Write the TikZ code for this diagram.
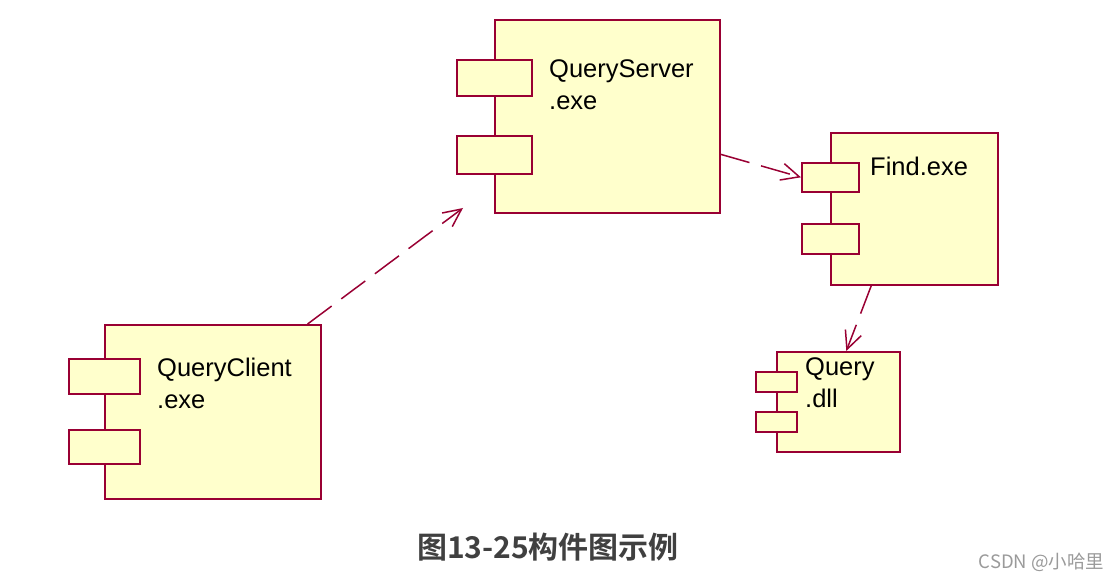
\documentclass[tikz,border=0pt]{standalone}
\usepackage{fontspec}
\usepackage{tikz}
\usetikzlibrary{arrows.meta,positioning}
\setmainfont{Liberation Sans}
\newfontfamily\cjkfont{Noto Sans CJK SC}
\newfontfamily\cjkbold{Noto Sans CJK SC Bold}
\definecolor{umlRed}{HTML}{990033}
\definecolor{umlFill}{HTML}{FFFFCC}
\definecolor{capGray}{HTML}{404040}
\definecolor{markGray}{HTML}{9A9A9A}
\tikzset{
  compbody/.style={rectangle,draw=umlRed,fill=umlFill,line width=1.6pt,
    inner sep=0pt,anchor=north west},
  comptab/.style={rectangle,draw=umlRed,fill=umlFill,line width=1.6pt,
    inner sep=0pt,anchor=north west},
  complabel/.style={anchor=base west,align=left,inner sep=0pt,
    font=\fontsize{25.5}{32}\selectfont},
  deparrow/.style={-{Straight Barb[length=18pt,width=17pt]},draw=umlRed,
    line width=1.5pt,dash pattern=on 30pt off 12pt}
}
\begin{document}
\begin{tikzpicture}[x=1pt,y=-1pt]
  \useasboundingbox (0,0) rectangle (1120,580);
  % components
  \node[compbody,minimum width=225pt,minimum height=193pt] (server) at (494,19) {};
  \node[comptab,minimum width=75pt,minimum height=36pt] (serverTabA) at (456,59) {};
  \node[comptab,minimum width=75pt,minimum height=38pt] (serverTabB) at (456,135) {};
  \node[complabel] (serverText) at (549,110) {QueryServer\\.exe};
  \node[compbody,minimum width=167pt,minimum height=152pt] (find) at (830,132) {};
  \node[comptab,minimum width=57pt,minimum height=29pt] (findTabA) at (801,162) {};
  \node[comptab,minimum width=57pt,minimum height=30pt] (findTabB) at (801,223) {};
  \node[complabel] (findText) at (870,176) {Find.exe};
  \node[compbody,minimum width=123pt,minimum height=100pt] (query) at (776,351) {};
  \node[comptab,minimum width=41pt,minimum height=20pt] (queryTabA) at (755,371) {};
  \node[comptab,minimum width=41pt,minimum height=20pt] (queryTabB) at (755,411) {};
  \node[complabel] (queryText) at (805,407) {Query\\.dll};
  \node[compbody,minimum width=216pt,minimum height=174pt] (client) at (104,324) {};
  \node[comptab,minimum width=71pt,minimum height=35pt] (clientTabA) at (68,358) {};
  \node[comptab,minimum width=71pt,minimum height=34pt] (clientTabB) at (68,429) {};
  \node[complabel] (clientText) at (157,408) {QueryClient\\.exe};
  % dependencies
  \coordinate (clientTip) at (463,208);
  \draw[deparrow] ([xshift=-14pt]client.north east) -- (clientTip);
  \draw[deparrow] ([yshift=-38pt]server.east) -- (findTabA.west);
  \draw[deparrow] ([xshift=-43pt]find.south) -- ([xshift=8pt]query.north);
  % caption
  \node[text=capGray,font=\cjkbold\fontsize{30}{30}\selectfont] (caption) at (548,547) {图13-25构件图示例};
  \node[anchor=east,text=markGray,font=\cjkfont\fontsize{18.5}{18.5}\selectfont] (mark) at (1108,562) {CSDN @小哈里};
\end{tikzpicture}
\end{document}
